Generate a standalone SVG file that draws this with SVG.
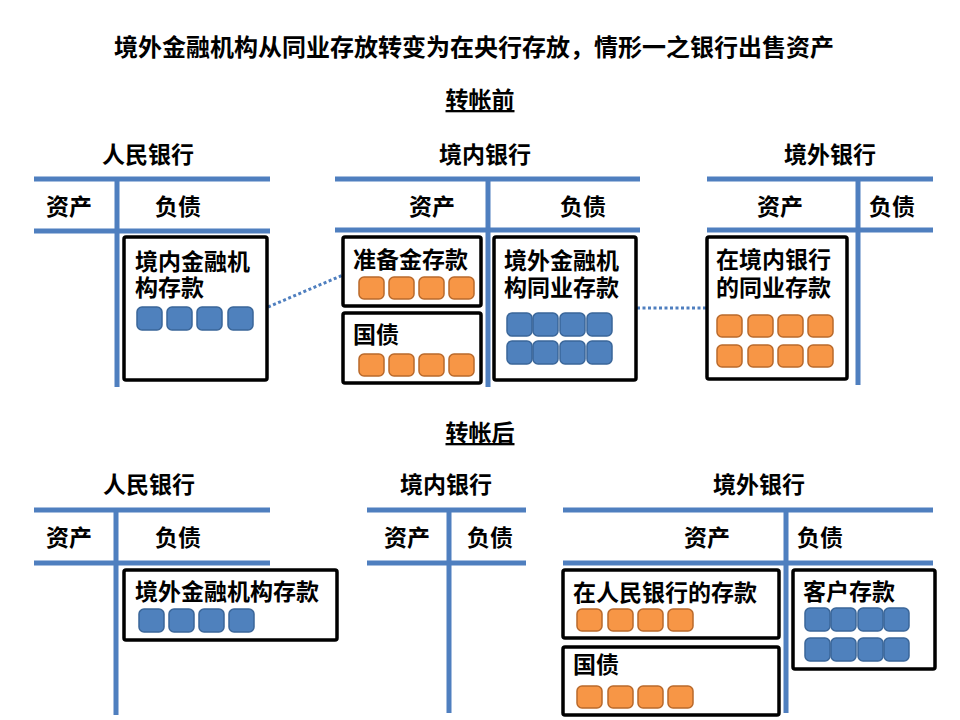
<svg xmlns="http://www.w3.org/2000/svg" width="960" height="720" viewBox="0 0 960 720">
<style>
text{font-family:"Noto Sans CJK SC","Liberation Sans",sans-serif;font-weight:bold;fill:#000;font-size:23px}
.title{font-size:24px;text-anchor:middle}
.sec{font-size:23px;text-anchor:middle;text-decoration:underline}
.bank{text-anchor:middle}
.hd{text-anchor:middle}
.tl{stroke:#4F7FBF;stroke-width:5;fill:none}
.box{fill:#fff;stroke:#000;stroke-width:3.5}
.b{fill:#4F81BD;stroke:#3A6699;stroke-width:1.5}
.o{fill:#F79646;stroke:#B9692B;stroke-width:1.5}
.dot{stroke:#4F7FBF;stroke-width:3;stroke-dasharray:3 2.5;fill:none}
</style>
<defs>
<rect id="bs" width="25" height="23" rx="5" class="b"/>
<rect id="os" width="25" height="22" rx="5" class="o"/>
</defs>
<rect width="960" height="720" fill="#fff"/>
<text class="title" x="474" y="56">境外金融机构从同业存放转变为在央行存放，情形一之银行出售资产</text>
<text class="sec" x="480" y="108">转帐前</text>
<text class="sec" x="480" y="441">转帐后</text>

<g id="connectors">
<line class="dot" x1="268" y1="307" x2="343" y2="275"/>
<line class="dot" x1="637" y1="308" x2="706" y2="308"/>
</g>

<!-- Before: PBOC -->
<g id="pboc-before">
<text class="bank" x="148" y="163">人民银行</text>
<path class="tl" d="M34 179H270M34 231H270M117 179V387"/>
<text class="hd" x="69" y="215">资产</text>
<text class="hd" x="178" y="215">负债</text>
<g id="pboc-before-dep">
<rect class="box" x="124" y="237" width="143" height="143" rx="2"/>
<text x="135" y="270">境内金融机<tspan x="135" dy="26">构存款</tspan></text>
<use href="#bs" x="137" y="307"/><use href="#bs" x="167" y="307"/><use href="#bs" x="197" y="307"/><use href="#bs" x="228" y="307"/>
</g>
</g>

<!-- Before: Domestic bank -->
<g id="dom-before">
<text class="bank" x="485" y="163">境内银行</text>
<path class="tl" d="M335 179H640M335 230H640M488 179V387"/>
<text class="hd" x="432" y="215">资产</text>
<text class="hd" x="583" y="215">负债</text>
<g id="dom-before-res">
<rect class="box" x="343" y="237" width="138" height="69" rx="2"/>
<text x="353" y="268">准备金存款</text>
<use href="#os" x="359" y="277"/><use href="#os" x="389" y="277"/><use href="#os" x="419" y="277"/><use href="#os" x="449" y="277"/>
</g>
<g id="dom-before-bond">
<rect class="box" x="343" y="313" width="138" height="70" rx="2"/>
<text x="353" y="343">国债</text>
<use href="#os" x="359" y="354"/><use href="#os" x="389" y="354"/><use href="#os" x="419" y="354"/><use href="#os" x="449" y="354"/>
</g>
<g id="dom-before-interbank">
<rect class="box" x="494" y="237" width="142" height="143" rx="2"/>
<text x="504" y="269">境外金融机<tspan x="504" dy="27">构同业存款</tspan></text>
<use href="#bs" x="507" y="313"/><use href="#bs" x="533" y="313"/><use href="#bs" x="560" y="313"/><use href="#bs" x="587" y="313"/>
<use href="#bs" x="507" y="341"/><use href="#bs" x="533" y="341"/><use href="#bs" x="560" y="341"/><use href="#bs" x="587" y="341"/>
</g>
</g>

<!-- Before: Foreign bank -->
<g id="for-before">
<text class="bank" x="830" y="163">境外银行</text>
<path class="tl" d="M707 179H933M707 230H933M858 179V385"/>
<text class="hd" x="780" y="215">资产</text>
<text class="hd" x="892" y="215">负债</text>
<g id="for-before-dep">
<rect class="box" x="707" y="237" width="140" height="142" rx="2"/>
<text x="716" y="268">在境内银行<tspan x="716" dy="28">的同业存款</tspan></text>
<use href="#os" x="717" y="315"/><use href="#os" x="748" y="315"/><use href="#os" x="778" y="315"/><use href="#os" x="808" y="315"/>
<use href="#os" x="717" y="345"/><use href="#os" x="748" y="345"/><use href="#os" x="778" y="345"/><use href="#os" x="808" y="345"/>
</g>
</g>

<!-- After: PBOC -->
<g id="pboc-after">
<text class="bank" x="149" y="493">人民银行</text>
<path class="tl" d="M34 510H270M34 563H270M116 510V715"/>
<text class="hd" x="69" y="546">资产</text>
<text class="hd" x="178" y="546">负债</text>
<g id="pboc-after-dep">
<rect class="box" x="124" y="570" width="213" height="70" rx="2"/>
<text x="135" y="600">境外金融机构存款</text>
<use href="#bs" x="139" y="609"/><use href="#bs" x="169" y="609"/><use href="#bs" x="199" y="609"/><use href="#bs" x="229" y="609"/>
</g>
</g>

<!-- After: Domestic bank -->
<g id="dom-after">
<text class="bank" x="446" y="493">境内银行</text>
<path class="tl" d="M367 510H526M367 563H526M449 510V713"/>
<text class="hd" x="407" y="546">资产</text>
<text class="hd" x="490" y="546">负债</text>
</g>

<!-- After: Foreign bank -->
<g id="for-after">
<text class="bank" x="759" y="493">境外银行</text>
<path class="tl" d="M563 510H933M563 563H933M786 510V713"/>
<text class="hd" x="707" y="546">资产</text>
<text class="hd" x="820" y="546">负债</text>
<g id="for-after-pboc">
<rect class="box" x="563" y="570" width="216" height="68" rx="2"/>
<text x="573" y="601">在人民银行的存款</text>
<use href="#os" x="577" y="609"/><use href="#os" x="608" y="609"/><use href="#os" x="638" y="609"/><use href="#os" x="668" y="609"/>
</g>
<g id="for-after-bond">
<rect class="box" x="563" y="647" width="216" height="68" rx="2"/>
<text x="573" y="673">国债</text>
<use href="#os" x="577" y="686"/><use href="#os" x="608" y="686"/><use href="#os" x="638" y="686"/><use href="#os" x="668" y="686"/>
</g>
<g id="for-after-cust">
<rect class="box" x="793" y="570" width="142" height="99" rx="2"/>
<text x="803" y="600">客户存款</text>
<use href="#bs" x="805" y="608"/><use href="#bs" x="831" y="608"/><use href="#bs" x="858" y="608"/><use href="#bs" x="884" y="608"/>
<use href="#bs" x="805" y="638"/><use href="#bs" x="831" y="638"/><use href="#bs" x="858" y="638"/><use href="#bs" x="884" y="638"/>
</g>
</g>
</svg>
